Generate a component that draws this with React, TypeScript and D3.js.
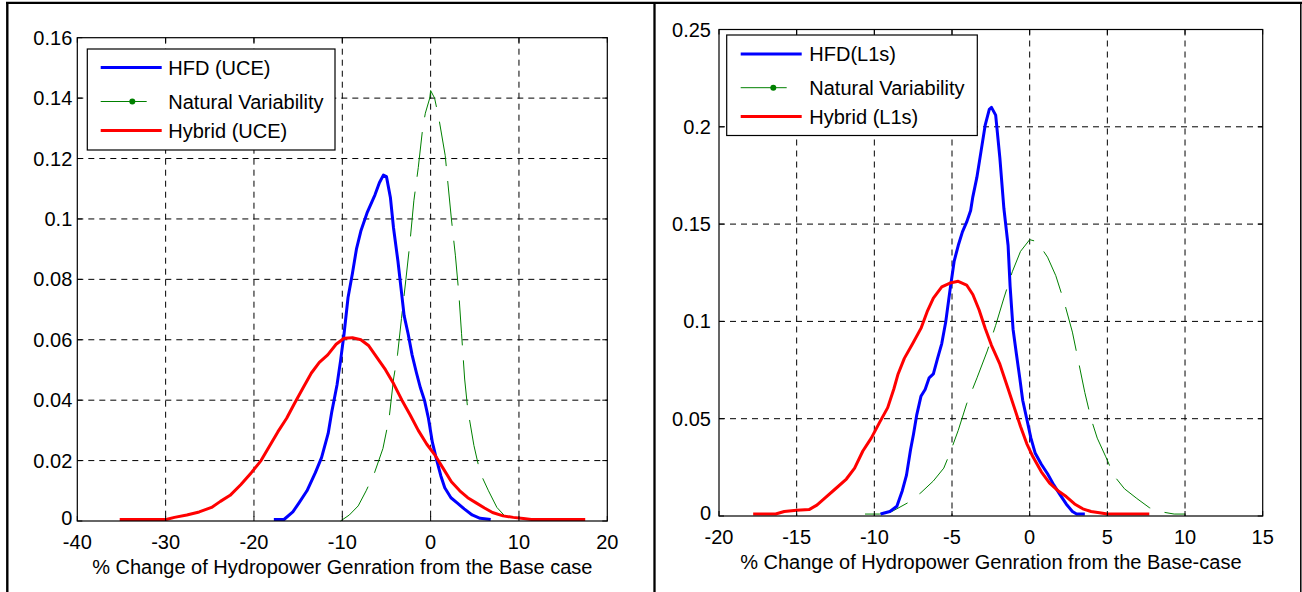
import React from "react";
import * as d3 from "d3";

// ---------- data ----------
const leftXTicks = [-40, -30, -20, -10, 0, 10, 20];
const leftYTicks = [0, 0.02, 0.04, 0.06, 0.08, 0.1, 0.12, 0.14, 0.16];
const rightXTicks = [-20, -15, -10, -5, 0, 5, 10, 15];
const rightYTicks = [0, 0.05, 0.1, 0.15, 0.2, 0.25];

const leftLabels = ["HFD (UCE)", "Natural Variability", "Hybrid (UCE)"];
const rightLabels = ["HFD(L1s)", "Natural Variability", "Hybrid (L1s)"];

const leftXLabel = "% Change of Hydropower Genration from the Base case";
const rightXLabel = "% Change of Hydropower Genration from the Base-case";

const hfdUce: [number, number][] = [
  [-17.75, 0.0005], [-16.6, 0.0005], [-15.6, 0.003], [-14.9, 0.006], [-14.0, 0.01],
  [-13.05, 0.016], [-12.35, 0.021], [-11.6, 0.029], [-11.2, 0.036], [-10.6, 0.045],
  [-10.2, 0.053], [-9.8, 0.062], [-9.35, 0.074], [-8.85, 0.082], [-8.4, 0.09],
  [-7.9, 0.096], [-7.2, 0.102], [-6.3, 0.108], [-5.8, 0.112], [-5.35, 0.1145],
  [-5.0, 0.114], [-4.55, 0.107], [-4.2, 0.097], [-3.7, 0.086], [-3.35, 0.077],
  [-3.0, 0.068], [-2.55, 0.062], [-2.1, 0.055], [-1.6, 0.049], [-1.15, 0.044],
  [-0.7, 0.04], [-0.25, 0.034], [0.2, 0.026], [0.7, 0.02], [1.15, 0.015],
  [1.6, 0.011], [2.3, 0.0077], [3.0, 0.006], [3.8, 0.004], [4.7, 0.002],
  [5.6, 0.0009], [6.8, 0.0005],
];

const natVarUce: [number, number][] = [
  [-10.2, 0.0], [-9.2, 0.002], [-8.2, 0.005], [-7.3, 0.01], [-6.35, 0.016],
  [-5.4, 0.024], [-4.7, 0.034], [-4.2, 0.047], [-3.75, 0.055], [-3.3, 0.067],
  [-2.8, 0.08], [-2.35, 0.092], [-1.9, 0.106], [-1.4, 0.117], [-0.9, 0.13],
  [-0.6, 0.135], [-0.1, 0.14], [0.0, 0.1425], [0.45, 0.14], [0.95, 0.133],
  [1.65, 0.121], [2.35, 0.1], [2.8, 0.088], [3.2, 0.075], [3.5, 0.062],
  [3.85, 0.047], [4.2, 0.037], [4.9, 0.025], [5.6, 0.016], [6.55, 0.01],
  [7.5, 0.0045], [8.45, 0.0015], [9.6, 0.0],
];

const hybridUce: [number, number][] = [
  [-35.2, 0.0005], [-29.95, 0.0005], [-29.0, 0.0012], [-27.6, 0.002], [-26.2, 0.003],
  [-24.8, 0.0045], [-23.8, 0.0065], [-22.7, 0.0085], [-21.5, 0.012], [-20.3, 0.016],
  [-19.2, 0.02], [-18.2, 0.025], [-17.3, 0.0295], [-16.3, 0.034], [-15.4, 0.039],
  [-14.45, 0.044], [-13.5, 0.049], [-12.6, 0.0525], [-11.65, 0.055], [-10.7, 0.0585],
  [-9.8, 0.0605], [-8.85, 0.0607], [-7.9, 0.06], [-7.0, 0.058], [-6.05, 0.054],
  [-5.1, 0.05], [-4.2, 0.0455], [-3.25, 0.04], [-2.3, 0.035], [-1.4, 0.03],
  [-0.45, 0.0255], [0.45, 0.022], [1.4, 0.0175], [2.35, 0.013], [3.3, 0.01],
  [4.2, 0.0077], [5.15, 0.006], [6.1, 0.0043], [7.0, 0.0028], [8.2, 0.0017],
  [9.35, 0.0012], [10.5, 0.0008], [11.4, 0.0005], [17.5, 0.0005],
];

const hfdL1s: [number, number][] = [
  [-9.6, 0.001], [-9.0, 0.0023], [-8.55, 0.005], [-8.2, 0.013], [-7.93, 0.021],
  [-7.67, 0.034], [-7.48, 0.042], [-7.27, 0.052], [-7.0, 0.0615], [-6.73, 0.065],
  [-6.47, 0.071], [-6.2, 0.073], [-5.93, 0.081], [-5.66, 0.0886], [-5.4, 0.1],
  [-5.13, 0.116], [-4.86, 0.131], [-4.6, 0.139], [-4.33, 0.146], [-4.06, 0.151],
  [-3.8, 0.157], [-3.66, 0.164], [-3.4, 0.174], [-3.13, 0.1875], [-2.86, 0.201],
  [-2.6, 0.209], [-2.46, 0.21], [-2.19, 0.206], [-1.92, 0.184], [-1.66, 0.158],
  [-1.39, 0.139], [-1.26, 0.118], [-1.07, 0.096], [-0.85, 0.083], [-0.64, 0.071],
  [-0.45, 0.0595], [-0.19, 0.05], [0.08, 0.04], [0.35, 0.0324], [0.75, 0.0266],
  [1.15, 0.0217], [1.55, 0.016], [1.95, 0.011], [2.35, 0.0062], [2.75, 0.0023],
  [3.02, 0.001], [3.55, 0.001],
];

const natVarL1s: [number, number][] = [
  [-10.6, 0.001], [-9.67, 0.001], [-8.87, 0.0023], [-7.8, 0.007], [-7.0, 0.012],
  [-6.2, 0.018], [-5.53, 0.0246], [-5.13, 0.0324], [-4.6, 0.044], [-4.06, 0.0576],
  [-3.39, 0.071], [-2.73, 0.0848], [-2.19, 0.098], [-1.66, 0.112], [-1.12, 0.1255],
  [-0.59, 0.136], [0.0, 0.142], [0.48, 0.141], [1.15, 0.133], [1.68, 0.1235],
  [2.22, 0.11], [2.75, 0.0945], [3.15, 0.079], [3.55, 0.0634], [3.95, 0.05],
  [4.35, 0.04], [4.9, 0.0304], [5.42, 0.0208], [6.1, 0.014], [6.9, 0.009],
  [7.7, 0.0043], [8.36, 0.0023], [9.3, 0.001], [10.0, 0.001],
];

const hybridL1s: [number, number][] = [
  [-17.8, 0.001], [-16.35, 0.001], [-15.8, 0.0023], [-15.0, 0.003], [-14.2, 0.0033],
  [-13.7, 0.0056], [-13.15, 0.0095], [-12.5, 0.014], [-11.8, 0.019], [-11.27, 0.0246],
  [-10.74, 0.0334], [-10.2, 0.04], [-9.67, 0.048], [-9.14, 0.0557], [-8.74, 0.0654],
  [-8.47, 0.073], [-8.07, 0.081], [-7.53, 0.0886], [-7.0, 0.0964], [-6.6, 0.105],
  [-6.2, 0.112], [-5.66, 0.1177], [-5.13, 0.1197], [-4.6, 0.1206], [-4.06, 0.1187],
  [-3.66, 0.1138], [-3.26, 0.106], [-2.86, 0.0964], [-2.46, 0.0877], [-1.92, 0.078],
  [-1.39, 0.0654], [-0.99, 0.0557], [-0.59, 0.046], [-0.19, 0.0372], [0.21, 0.0304],
  [0.75, 0.0227], [1.28, 0.0169], [1.82, 0.013], [2.35, 0.01], [2.89, 0.0062],
  [3.42, 0.0037], [3.95, 0.0023], [4.49, 0.0017], [5.0, 0.001], [7.7, 0.001],
];

// ---------- styles ----------
const FONT = "'Liberation Sans', Arial, sans-serif";
const BLUE = "#0000ff";
const RED = "#ff0000";
const GREEN = "#008000";

type PanelCfg = {
  x0: number; x1: number; y0: number; y1: number;
  xDomain: [number, number]; yDomain: [number, number];
  xTicks: number[]; yTicks: number[];
  series: [number, number][][];
  labels: string[];
  xLabel: string;
  yLabelGap: number;
  legend: { x: number; y: number; w: number; h: number; rows: number[]; lx0: number; lx1: number; tx: number; dot: number };
};

const Panel: React.FC<{ cfg: PanelCfg }> = ({ cfg }) => {
  const xs = d3.scaleLinear().domain(cfg.xDomain).range([cfg.x0, cfg.x1]);
  const ys = d3.scaleLinear().domain(cfg.yDomain).range([cfg.y1, cfg.y0]);
  const line = d3.line<[number, number]>().x((d) => xs(d[0])).y((d) => ys(d[1]));
  const fmt = (v: number) => String(+v.toFixed(3));
  const fmtX = (v: number) => (v < 0 ? "-" + Math.abs(v) : String(v));
  const colors = [BLUE, GREEN, RED];
  const widths = [3, 1, 3];
  const dashes = [undefined, "45,15", undefined];
  const L = cfg.legend;
  const tk = 5;
  return (
    <g>
      {/* grid */}
      {cfg.xTicks.slice(1, -1).map((t) => (
        <line key={"gx" + t} x1={xs(t)} x2={xs(t)} y1={cfg.y0} y2={cfg.y1} stroke="#000" strokeWidth={1} strokeDasharray="6,5" />
      ))}
      {cfg.yTicks.slice(1, -1).map((t) => (
        <line key={"gy" + t} x1={cfg.x0} x2={cfg.x1} y1={ys(t)} y2={ys(t)} stroke="#000" strokeWidth={1} strokeDasharray="6,5" />
      ))}
      {/* curves: green first then blue then red */}
      {[1, 0, 2].map((i) => (
        <path key={"s" + i} d={line(cfg.series[i]) || ""} fill="none" stroke={colors[i]} strokeWidth={widths[i]} strokeDasharray={dashes[i]} strokeLinejoin="round" />
      ))}
      {/* box */}
      <rect x={cfg.x0} y={cfg.y0} width={cfg.x1 - cfg.x0} height={cfg.y1 - cfg.y0} fill="none" stroke="#000" strokeWidth={1.2} />
      {/* ticks */}
      {cfg.xTicks.map((t) => (
        <g key={"tx" + t}>
          <line x1={xs(t)} x2={xs(t)} y1={cfg.y1} y2={cfg.y1 - tk} stroke="#000" />
          <line x1={xs(t)} x2={xs(t)} y1={cfg.y0} y2={cfg.y0 + tk} stroke="#000" />
          <text x={xs(t)} y={cfg.y1 + 27.5} textAnchor="middle" fontSize={20} fontFamily={FONT}>{fmtX(t)}</text>
        </g>
      ))}
      {cfg.yTicks.map((t) => (
        <g key={"ty" + t}>
          <line x1={cfg.x0} x2={cfg.x0 + tk} y1={ys(t)} y2={ys(t)} stroke="#000" />
          <line x1={cfg.x1} x2={cfg.x1 - tk} y1={ys(t)} y2={ys(t)} stroke="#000" />
          <text x={cfg.x0 - cfg.yLabelGap} y={ys(t) + (t === 0 ? 4 : 7)} textAnchor="end" fontSize={20} fontFamily={FONT}>{fmt(t)}</text>
        </g>
      ))}
      <text x={(cfg.x0 + cfg.x1) / 2} y={cfg.y1 + 53} textAnchor="middle" fontSize={20} fontFamily={FONT}>{cfg.xLabel}</text>
      {/* legend */}
      <rect x={L.x} y={L.y} width={L.w} height={L.h} fill="#fff" stroke="#000" strokeWidth={1.2} />
      {cfg.labels.map((lab, i) => (
        <g key={"lg" + i}>
          <line x1={L.lx0} x2={L.lx1} y1={L.rows[i]} y2={L.rows[i]} stroke={colors[i]} strokeWidth={widths[i]} strokeDasharray={i === 1 ? "46,15" : undefined} />
          {i === 1 && <circle cx={L.dot} cy={L.rows[i]} r={3} fill={GREEN} />}
          <text x={L.tx} y={L.rows[i] + 7} fontSize={20} fontFamily={FONT}>{lab}</text>
        </g>
      ))}
    </g>
  );
};

const leftCfg: PanelCfg = {
  x0: 77.3, x1: 607.3, y0: 37.7, y1: 521,
  xDomain: [-40, 20], yDomain: [0, 0.16],
  xTicks: leftXTicks, yTicks: leftYTicks,
  series: [hfdUce, natVarUce, hybridUce],
  labels: leftLabels, xLabel: leftXLabel, yLabelGap: 5,
  legend: { x: 87.3, y: 49, w: 247.7, h: 101, rows: [67.5, 101.5, 130.5], lx0: 100.7, lx1: 161.7, tx: 168.3, dot: 132.3 },
};

const rightCfg: PanelCfg = {
  x0: 719, x1: 1262.7, y0: 29.5, y1: 516,
  xDomain: [-20, 15], yDomain: [0, 0.25],
  xTicks: rightXTicks, yTicks: rightYTicks,
  series: [hfdL1s, natVarL1s, hybridL1s],
  labels: rightLabels, xLabel: rightXLabel, yLabelGap: 8,
  legend: { x: 726.7, y: 35, w: 250.6, h: 100.5, rows: [54, 87.7, 116.5], lx0: 740.7, lx1: 801.7, tx: 809.3, dot: 773.3 },
};

export default function App() {
  return (
    <svg width={1302} height={592} style={{ position: "absolute", left: 0, top: 0, background: "#fff" }}>
      <rect x={0} y={0} width={1302} height={592} fill="#fff" />
      {/* outer frames */}
      <line x1={6} x2={1302} y1={2.8} y2={2.8} stroke="#000" strokeWidth={2.2} />
      <line x1={7.3} x2={7.3} y1={2} y2={592} stroke="#000" strokeWidth={2.4} />
      <line x1={654.5} x2={654.5} y1={2} y2={592} stroke="#000" strokeWidth={2.3} />
      <line x1={1300.8} x2={1300.8} y1={2} y2={592} stroke="#000" strokeWidth={1.5} />
      <Panel cfg={leftCfg} />
      <Panel cfg={rightCfg} />
    </svg>
  );
}
